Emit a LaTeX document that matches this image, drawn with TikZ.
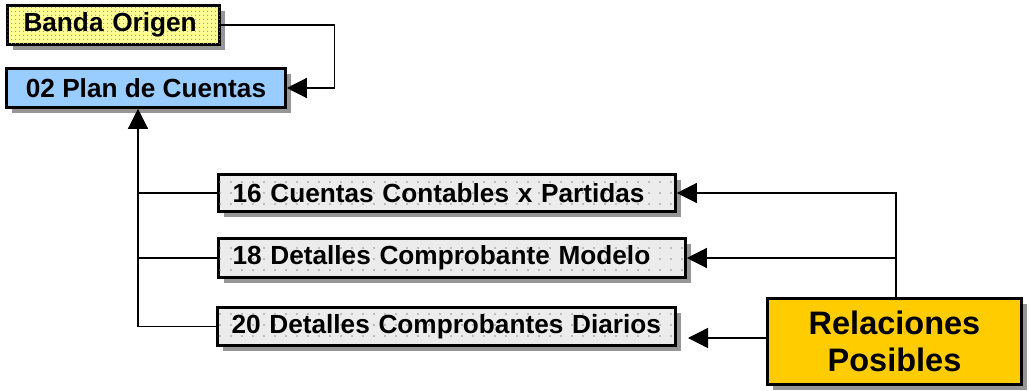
\documentclass[tikz,border=0pt]{standalone}
\usepackage{fontspec}
\setmainfont{Liberation Sans}
\usetikzlibrary{arrows.meta,shadows,patterns.meta}
\definecolor{bandafill}{RGB}{255,255,150}
\definecolor{planfill}{RGB}{153,204,255}
\definecolor{tablefill}{RGB}{236,236,236}
\definecolor{relfill}{RGB}{255,204,0}
\definecolor{shadowgray}{RGB}{150,150,150}
\tikzdeclarepattern{
  name=griddots,
  type=uncolored,
  bounding box={(-5.5pt,-5.5pt) and (5.5pt,5.5pt)},
  tile size={(11pt,11pt)},
  code={\fill (0pt,0pt) circle (0.8pt);}
}
\tikzdeclarepattern{
  name=finedots,
  type=uncolored,
  bounding box={(-2pt,-2pt) and (2pt,2pt)},
  tile size={(4pt,4pt)},
  code={\fill (0pt,0pt) circle (0.8pt);}
}
\tikzset{
  boxbase/.style={draw=black, line width=2.6pt, rectangle, inner ysep=0pt,
    general shadow={shadow xshift=5pt, shadow yshift=-5pt, fill=shadowgray},
    font=\fontsize{26.2}{30}\selectfont\bfseries},
  bandabox/.style={boxbase, fill=bandafill,
    postaction={pattern=finedots, pattern color=black!40}},
  planbox/.style={boxbase, fill=planfill, align=center},
  tablebox/.style={boxbase, fill=tablefill,
    postaction={pattern=griddots, pattern color=black!45}},
  relbox/.style={boxbase, fill=relfill, align=center,
    font=\fontsize{32.5}{37}\selectfont\bfseries},
  conn/.style={draw=black, line width=1.3pt},
  arr/.style={conn, -{Triangle[length=20pt,width=20pt]}}
}
\begin{document}
\begin{tikzpicture}[x=1pt,y=-1pt]
\useasboundingbox (0,0) rectangle (1029,391);

\node[bandabox, minimum width=212pt, minimum height=39pt, inner xsep=16pt,
      text width=180pt, align=left] (banda) at (113.5,25) {Banda Origen};
\node[planbox, minimum width=279pt, minimum height=39pt] (plan) at (146,88) {02 Plan de Cuentas};

\node[tablebox, minimum height=37pt, inner xsep=14pt, text width=429pt, align=left]
  (b16) at (447,193) {16 Cuentas Contables x Partidas};
\node[tablebox, minimum height=39pt, inner xsep=14pt, text width=439pt, align=left]
  (b18) at (452,258) {18 Detalles Comprobante Modelo};
\node[tablebox, minimum height=38pt, inner xsep=14pt, text width=430pt, align=left]
  (b20) at (446.5,326.5) {20 Detalles Comprobantes Diarios};

\node[relbox, minimum width=254pt, minimum height=86pt, inner sep=0pt] (rel) at (894.5,341.5)
  {Relaciones\\Posibles};

\coordinate (trunk) at ([xshift=-8pt]plan.south);
\coordinate (free) at (688,338);

% Banda Origen -> Plan de Cuentas
\draw[arr] (banda.east) -- ++(114,0) |- (plan.east);

% tables -> Plan de Cuentas
\draw[arr] (b20.west) -| (trunk);
\draw[conn] (b16.west) -- (b16.west -| trunk);
\draw[conn] (b18.west) -- (b18.west -| trunk);

% Relaciones Posibles -> tables
\draw[arr] ([xshift=1.5pt]rel.north) |- (b16.east);
\draw[arr] ([xshift=1.5pt]rel.north |- b18.east) -- (b18.east);
\draw[arr] (rel.west |- free) -- (free);
\end{tikzpicture}
\end{document}
